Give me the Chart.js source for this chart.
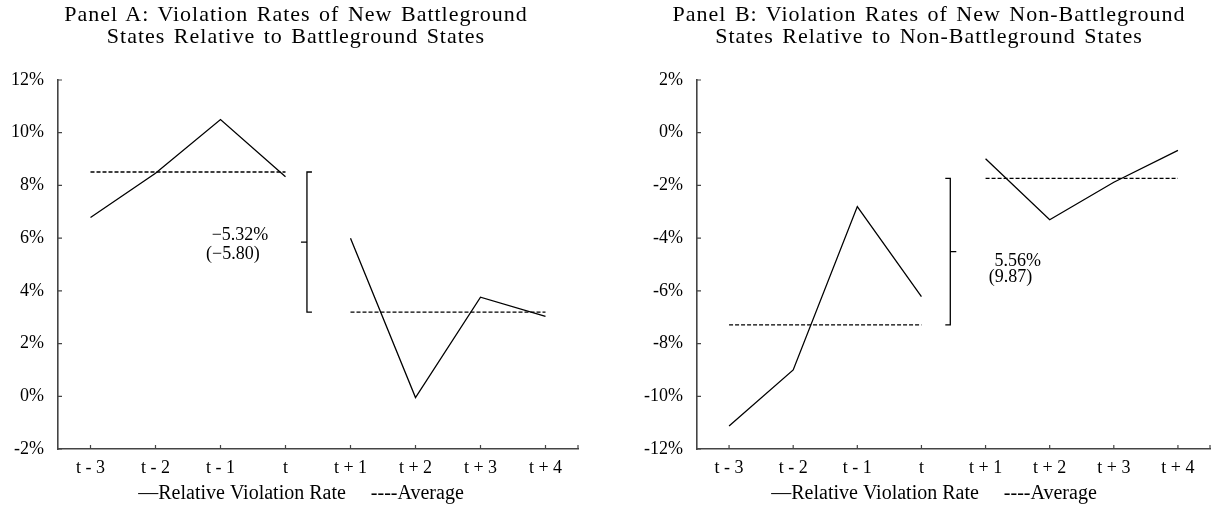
<!DOCTYPE html>
<html>
<head>
<meta charset="utf-8">
<script src="https://cdn.jsdelivr.net/npm/chart.js@4.4.1/dist/chart.umd.min.js"></script>
<style>
    body { margin: 0; background: #fff; }
    .panel { position: absolute; top: 0; height: 506px; }
    #panel-a { left: 0; width: 592px; }
    #panel-b { left: 639px; width: 580px; }
    .title {
        position: absolute;
        top: 3px;
        text-align: center;
        font: 22px/22px 'Liberation Serif', serif;
        letter-spacing: 1px;
        word-spacing: 2px;
        color: #000;
        z-index: 2;
    }
    #title-a { left: 0; width: 592px; }
    #title-b { left: 639px; width: 580px; }
</style>
</head>
<body>
<div class="title" id="title-a">Panel A: Violation Rates of New Battleground<br>States Relative to Battleground States</div>
<div class="title" id="title-b">Panel B: Violation Rates of New Non-Battleground<br>States Relative to Non-Battleground States</div>
<div class="panel" id="panel-a"><canvas id="chart-a"></canvas></div>
<div class="panel" id="panel-b"><canvas id="chart-b"></canvas></div>
<script>
// Dados
const periods = ['t - 3', 't - 2', 't - 1', 't', 't + 1', 't + 2', 't + 3', 't + 4'];

const rateA = [6.78, 8.46, 10.5, 8.33, 6.0, -0.05, 3.76, 3.03];
const averageA = [8.51, 8.51, 8.51, 8.51, 3.19, 3.19, 3.19, 3.19];
const ticksA = [-2, 0, 2, 4, 6, 8, 10, 12];

const rateB = [-11.13, -9.0, -2.8, -6.22, -0.99, -3.3, -1.88, -0.67];
const averageB = [-7.29, -7.29, -7.29, -7.29, -1.73, -1.73, -1.73, -1.73];
const ticksB = [-12, -10, -8, -6, -4, -2, 0, 2];

const AXIS_COLOR = '#444';

Chart.defaults.font.family = "'Liberation Serif', 'Times New Roman', serif";
Chart.defaults.color = '#000';

/**
 * Marcas de escala para dentro da área do gráfico (estilo Excel).
 */
const innerTicks = {
    id: 'innerTicks',
    afterDraw(chart) {
        const { ctx, chartArea, scales: { x, y } } = chart;
        ctx.save();
        ctx.strokeStyle = AXIS_COLOR;
        ctx.lineWidth = 1.2;
        ctx.beginPath();
        y.ticks.forEach((t, i) => {
            const py = y.getPixelForTick(i);
            ctx.moveTo(chartArea.left, py);
            ctx.lineTo(chartArea.left + 4, py);
        });
        x.ticks.forEach((t, i) => {
            const px = x.getPixelForTick(i);
            ctx.moveTo(px, chartArea.bottom);
            ctx.lineTo(px, chartArea.bottom - 4);
        });
        ctx.moveTo(chartArea.right, chartArea.bottom);
        ctx.lineTo(chartArea.right, chartArea.bottom - 4);
        ctx.stroke();
        ctx.restore();
    }
};

/**
 * Chave entre as duas médias e o texto da diferença.
 */
const bracket = {
    id: 'bracket',
    afterDatasetsDraw(chart, args, opts) {
        const { ctx, scales: { x, y } } = chart;
        const bx = x.getPixelForValue(opts.at);
        const top = y.getPixelForValue(opts.from);
        const bottom = y.getPixelForValue(opts.to);
        const mid = (top + bottom) / 2;
        const s = opts.side;

        ctx.save();
        ctx.strokeStyle = '#000';
        ctx.lineWidth = 1.3;
        ctx.beginPath();
        ctx.moveTo(bx + 5 * s, top);
        ctx.lineTo(bx, top);
        ctx.lineTo(bx, bottom);
        ctx.lineTo(bx + 5 * s, bottom);
        ctx.moveTo(bx, mid);
        ctx.lineTo(bx - 6 * s, mid);
        ctx.stroke();

        ctx.fillStyle = '#000';
        ctx.font = "18px 'Liberation Serif', serif";
        ctx.textAlign = 'center';
        ctx.textBaseline = 'middle';
        opts.notes.forEach(n => {
            ctx.fillText(n.text, x.getPixelForValue(n.at), y.getPixelForValue(n.value));
        });
        ctx.restore();
    }
};

// Interrompe a linha entre t e t + 1
const breakAfterT = ctx => ctx.p0DataIndex === 3 ? 'rgba(0,0,0,0)' : undefined;

function buildPanel(canvasId, cfg) {
    const canvas = document.getElementById(canvasId);
    return new Chart(canvas, {
        type: 'line',
        data: {
            labels: periods,
            datasets: [
                {
                    label: 'Relative Violation Rate',
                    data: cfg.rate,
                    borderColor: '#000',
                    borderWidth: 1.3,
                    pointRadius: 0,
                    tension: 0,
                    segment: { borderColor: breakAfterT }
                },
                {
                    label: 'Average',
                    data: cfg.average,
                    borderColor: '#000',
                    borderWidth: 1.3,
                    borderDash: [4, 2],
                    pointRadius: 0,
                    tension: 0,
                    segment: { borderColor: breakAfterT }
                }
            ]
        },
        options: {
            responsive: true,
            maintainAspectRatio: false,
            animation: false,
            events: [],
            layout: { padding: { left: 0, right: 0, top: 80, bottom: -8 } },
            scales: {
                x: {
                    offset: true,
                    grid: { display: false, drawTicks: false },
                    border: { display: true, color: AXIS_COLOR, width: 1.6 },
                    ticks: { padding: 8, font: { size: 18 }, color: '#000', maxRotation: 0 },
                    afterFit: scale => { scale.height = 30; }
                },
                y: {
                    min: cfg.ticks[0],
                    max: cfg.ticks[cfg.ticks.length - 1],
                    grid: { display: false, drawTicks: false },
                    border: { display: true, color: AXIS_COLOR, width: 1.6 },
                    ticks: {
                        stepSize: 2,
                        padding: 14,
                        font: { size: 18 },
                        color: '#000',
                        callback: v => v + '%'
                    },
                    afterFit: scale => { scale.width = 58; }
                },
                // eixo vazio só para reservar a margem direita
                spacer: {
                    position: 'right',
                    grid: { display: false, drawTicks: false },
                    border: { display: false },
                    ticks: { display: false },
                    afterFit: scale => { scale.width = cfg.rightGap; }
                }
            },
            plugins: {
                title: { display: false },
                legend: {
                    position: 'bottom',
                    labels: {
                        boxWidth: 0,
                        boxHeight: 0,
                        padding: 5,
                        color: '#000',
                        font: { size: 20 },
                        generateLabels: () => [
                            { text: '\u2014Relative Violation Rate  ', fillStyle: 'transparent', strokeStyle: 'transparent', lineWidth: 0, hidden: false, datasetIndex: 0 },
                            { text: '----Average', fillStyle: 'transparent', strokeStyle: 'transparent', lineWidth: 0, hidden: false, datasetIndex: 1 }
                        ]
                    }
                },
                tooltip: { enabled: false },
                bracket: cfg.bracket
            }
        },
        plugins: [innerTicks, bracket]
    });
}

document.addEventListener('DOMContentLoaded', () => {
    buildPanel('chart-a', {
        rate: rateA,
        average: averageA,
        ticks: ticksA,
        rightGap: 14,
        bracket: {
            at: 3.33,
            from: averageA[0],
            to: averageA[4],
            side: 1,
            notes: [
                { text: '\u22125.32%', at: 2.3, value: 6.12 },
                { text: '(\u22125.80)', at: 2.19, value: 5.37 }
            ]
        }
    });

    buildPanel('chart-b', {
        rate: rateB,
        average: averageB,
        ticks: ticksB,
        rightGap: 9,
        bracket: {
            at: 3.45,
            from: averageB[4],
            to: averageB[0],
            side: -1,
            notes: [
                { text: '5.56%', at: 4.5, value: -4.86 },
                { text: '(9.87)', at: 4.39, value: -5.49 }
            ]
        }
    });
});
</script>
</body>
</html>
